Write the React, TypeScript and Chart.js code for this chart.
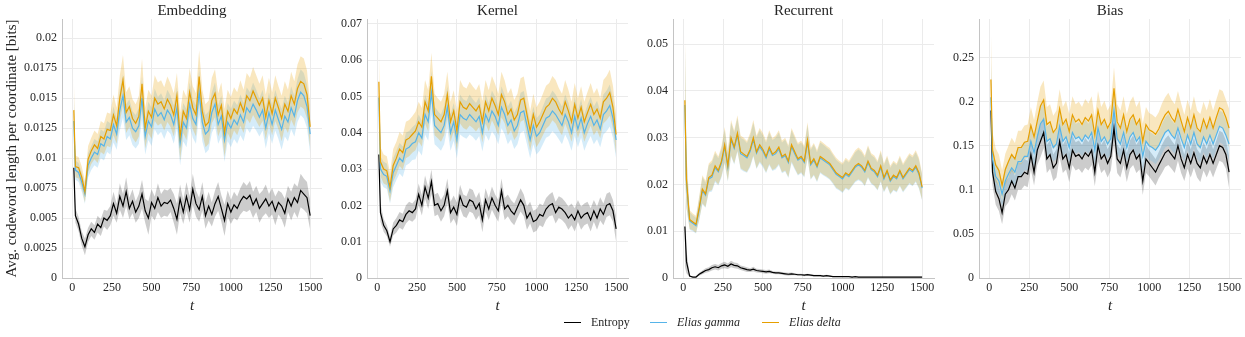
import React, { useEffect, useRef } from "react";
import { Chart, registerables } from "chart.js";

Chart.register(...registerables);

// ---------- data ----------
const T = [10, 20, 40, 60, 80, 100, 120, 140, 160, 180,
  200, 220, 240, 260, 280, 300, 320, 340, 360, 380,
  400, 420, 440, 460, 480, 500, 520, 540, 560, 580,
  600, 620, 640, 660, 680, 700, 720, 740, 760, 780,
  800, 820, 840, 860, 880, 900, 920, 940, 960, 980,
  1000, 1020, 1040, 1060, 1080, 1100, 1120, 1140, 1160, 1180,
  1200, 1220, 1240, 1260, 1280, 1300, 1320, 1340, 1360, 1380,
  1400, 1420, 1440, 1460, 1480, 1500];

const X_TICKS = [0, 250, 500, 750, 1000, 1250, 1500];
const X_TICK_LABELS = ["0", "250", "500", "750", "1000", "1250", "1500"];

const SERIES_LABELS = ["Entropy", "Elias gamma", "Elias delta"];

// Embedding
const EMB_ENT = [.0092, .0052, .0045, .0033, .0026, .0036, .0041, .0038, .0045, .0042,
  .0050, .0048, .0052, .0062, .0054, .0068, .0060, .0072, .0058, .0064,
  .0055, .0060, .0070, .0056, .0050, .0063, .0058, .0067, .0060, .0063,
  .0062, .0065, .0058, .0049, .0066, .0055, .0068, .0057, .0074, .0062,
  .0057, .0068, .0052, .0060, .0053, .0062, .0068, .0058, .0048, .0062,
  .0055, .0061, .0058, .0064, .0068, .0066, .0069, .0061, .0066, .0058,
  .0062, .0066, .0060, .0064, .0056, .0063, .0060, .0054, .0066, .0060,
  .0067, .0063, .0073, .0070, .0067, .0052];
const EMB_ENT_SD = [.0015, .0006, .0006, .0006, .0007, .0006, .0006, .0006, .0007, .0007,
  .0007, .0008, .0008, .0010, .0008, .0011, .0010, .0012, .0009, .0010,
  .0009, .0010, .0012, .0010, .0014, .0011, .0010, .0012, .0010, .0011,
  .0011, .0010, .0012, .0013, .0012, .0010, .0012, .0011, .0013, .0011,
  .0010, .0012, .0011, .0012, .0010, .0011, .0012, .0011, .0013, .0011,
  .0010, .0011, .0010, .0011, .0012, .0011, .0012, .0011, .0011, .0012,
  .0011, .0012, .0010, .0011, .0012, .0010, .0011, .0012, .0011, .0012,
  .0012, .0013, .0014, .0013, .0013, .0012];
const EMB_GAM = [.0131, .0090, .0088, .0080, .0070, .0094, .0100, .0105, .0103, .0112,
  .0110, .0118, .0116, .0128, .0120, .0140, .0152, .0130, .0134, .0125,
  .0122, .0127, .0150, .0118, .0131, .0126, .0141, .0135, .0138, .0132,
  .0140, .0136, .0128, .0142, .0112, .0130, .0125, .0145, .0133, .0128,
  .0155, .0130, .0120, .0123, .0138, .0145, .0128, .0135, .0115, .0130,
  .0125, .0132, .0128, .0136, .0130, .0142, .0138, .0145, .0140, .0134,
  .0140, .0125, .0138, .0128, .0140, .0132, .0124, .0135, .0130, .0142,
  .0135, .0148, .0155, .0152, .0143, .0120];
const EMB_GAM_SD = [.0025, .0008, .0008, .0008, .0008, .0010, .0010, .0011, .0011, .0012,
  .0012, .0013, .0013, .0015, .0013, .0017, .0018, .0015, .0015, .0014,
  .0014, .0015, .0018, .0015, .0016, .0016, .0017, .0016, .0016, .0016,
  .0017, .0016, .0016, .0017, .0018, .0016, .0016, .0018, .0016, .0016,
  .0019, .0016, .0016, .0016, .0017, .0018, .0016, .0017, .0018, .0016,
  .0016, .0016, .0016, .0017, .0016, .0017, .0017, .0018, .0017, .0016,
  .0017, .0017, .0017, .0016, .0017, .0016, .0017, .0017, .0016, .0018,
  .0017, .0018, .0019, .0019, .0018, .0016];
const EMB_DEL = [.0140, .0093, .0092, .0084, .0072, .0099, .0106, .0111, .0108, .0118,
  .0116, .0124, .0123, .0136, .0127, .0150, .0165, .0138, .0143, .0133,
  .0129, .0135, .0162, .0125, .0139, .0134, .0150, .0145, .0147, .0141,
  .0149, .0144, .0136, .0152, .0118, .0139, .0133, .0155, .0142, .0136,
  .0168, .0139, .0127, .0130, .0148, .0154, .0136, .0144, .0121, .0139,
  .0133, .0141, .0137, .0146, .0139, .0152, .0148, .0156, .0150, .0144,
  .0150, .0134, .0148, .0137, .0150, .0142, .0133, .0145, .0139, .0152,
  .0145, .0158, .0164, .0162, .0153, .0126];
const EMB_DEL_SD = [.0028, .0009, .0009, .0009, .0009, .0011, .0011, .0012, .0012, .0013,
  .0013, .0014, .0014, .0017, .0015, .0019, .0021, .0017, .0017, .0016,
  .0016, .0017, .0021, .0017, .0018, .0018, .0019, .0018, .0018, .0018,
  .0019, .0018, .0018, .0019, .0020, .0018, .0018, .0020, .0018, .0018,
  .0022, .0018, .0018, .0018, .0019, .0020, .0018, .0019, .0020, .0018,
  .0018, .0018, .0018, .0019, .0018, .0019, .0019, .0020, .0019, .0018,
  .0019, .0019, .0019, .0018, .0019, .0018, .0019, .0019, .0018, .0020,
  .0019, .0020, .0021, .0021, .0020, .0018];

// Kernel
const KER_ENT = [.0340, .0180, .0145, .0130, .0100, .0135, .0145, .0160, .0155, .0175,
  .0185, .0180, .0190, .0230, .0200, .0250, .0220, .0265, .0200, .0205,
  .0185, .0200, .0240, .0180, .0195, .0175, .0225, .0200, .0195, .0215,
  .0210, .0190, .0205, .0160, .0215, .0190, .0220, .0200, .0185, .0240,
  .0190, .0200, .0185, .0175, .0195, .0215, .0200, .0165, .0180, .0155,
  .0160, .0175, .0170, .0190, .0200, .0205, .0180, .0195, .0190, .0180,
  .0165, .0175, .0160, .0185, .0165, .0175, .0180, .0160, .0185, .0165,
  .0190, .0175, .0200, .0205, .0185, .0135];
const KER_ENT_SD = [.0030, .0025, .0018, .0015, .0014, .0018, .0020, .0022, .0022, .0025,
  .0025, .0025, .0026, .0030, .0028, .0032, .0030, .0034, .0030, .0030,
  .0030, .0030, .0034, .0030, .0032, .0032, .0032, .0030, .0030, .0032,
  .0032, .0030, .0032, .0034, .0032, .0030, .0032, .0030, .0030, .0034,
  .0030, .0030, .0030, .0030, .0030, .0032, .0030, .0032, .0030, .0030,
  .0030, .0030, .0030, .0030, .0030, .0032, .0030, .0030, .0030, .0030,
  .0032, .0030, .0032, .0030, .0032, .0030, .0030, .0032, .0030, .0032,
  .0032, .0030, .0032, .0032, .0030, .0035];
const KER_GAM = [.0497, .0300, .0285, .0280, .0240, .0290, .0310, .0330, .0320, .0355,
  .0360, .0370, .0375, .0400, .0385, .0450, .0430, .0510, .0420, .0410,
  .0400, .0420, .0470, .0400, .0430, .0380, .0450, .0440, .0435, .0450,
  .0440, .0430, .0445, .0400, .0450, .0430, .0460, .0445, .0420, .0470,
  .0450, .0420, .0435, .0405, .0420, .0455, .0460, .0420, .0380, .0420,
  .0390, .0400, .0420, .0440, .0445, .0460, .0450, .0435, .0420, .0450,
  .0430, .0400, .0445, .0410, .0440, .0400, .0425, .0445, .0420, .0435,
  .0410, .0450, .0460, .0475, .0440, .0380];
const KER_GAM_SD = [.0050, .0035, .0035, .0035, .0035, .0040, .0040, .0042, .0042, .0045,
  .0045, .0045, .0048, .0050, .0048, .0055, .0052, .0060, .0052, .0050,
  .0050, .0052, .0058, .0050, .0052, .0050, .0055, .0052, .0052, .0055,
  .0052, .0052, .0054, .0052, .0055, .0052, .0056, .0054, .0052, .0058,
  .0054, .0052, .0053, .0050, .0052, .0055, .0055, .0052, .0050, .0052,
  .0050, .0050, .0052, .0054, .0054, .0056, .0055, .0053, .0052, .0055,
  .0053, .0050, .0054, .0050, .0053, .0050, .0052, .0054, .0052, .0053,
  .0050, .0055, .0056, .0058, .0054, .0050];
const KER_DEL = [.0540, .0320, .0300, .0295, .0250, .0310, .0330, .0355, .0345, .0380,
  .0385, .0395, .0405, .0430, .0415, .0485, .0460, .0555, .0450, .0440,
  .0430, .0450, .0505, .0430, .0460, .0405, .0485, .0470, .0465, .0480,
  .0470, .0460, .0475, .0430, .0485, .0460, .0495, .0475, .0450, .0505,
  .0485, .0450, .0465, .0435, .0450, .0490, .0495, .0450, .0405, .0450,
  .0415, .0430, .0450, .0470, .0478, .0495, .0485, .0465, .0450, .0485,
  .0460, .0430, .0478, .0440, .0470, .0430, .0455, .0478, .0450, .0465,
  .0440, .0485, .0495, .0510, .0470, .0395];
const KER_DEL_SD = [.0095, .0040, .0040, .0040, .0040, .0045, .0045, .0047, .0047, .0050,
  .0050, .0050, .0053, .0055, .0053, .0060, .0057, .0065, .0057, .0055,
  .0055, .0057, .0063, .0055, .0057, .0055, .0060, .0057, .0057, .0060,
  .0057, .0057, .0059, .0057, .0060, .0057, .0061, .0059, .0057, .0063,
  .0059, .0057, .0058, .0055, .0057, .0060, .0060, .0057, .0055, .0057,
  .0055, .0055, .0057, .0059, .0059, .0061, .0060, .0058, .0057, .0060,
  .0058, .0055, .0059, .0055, .0058, .0055, .0057, .0059, .0057, .0058,
  .0055, .0060, .0061, .0063, .0059, .0055];

// Recurrent
const REC_ENT = [.0110, .0035, .0004, .0002, .0002, .0008, .0012, .0016, .0018, .0022,
  .0024, .0022, .0026, .0028, .0025, .0030, .0027, .0026, .0022, .0020,
  .0018, .0017, .0019, .0016, .0015, .0014, .0013, .0014, .0012, .0011,
  .0011, .0010, .0009, .0008, .0009, .0008, .0007, .0007, .0006, .0007,
  .0006, .0005, .0005, .0005, .0004, .0005, .0004, .0003, .0003, .0003,
  .0003, .0003, .0003, .0002, .0003, .0002, .0002, .0002, .0002, .0002,
  .0002, .0002, .0002, .0002, .0002, .0002, .0002, .0002, .0002, .0002,
  .0002, .0002, .0002, .0002, .0002, .0002];
const REC_ENT_SD = [.0085, .0025, .0002, .0001, .0001, .0003, .0004, .0005, .0005, .0006,
  .0006, .0006, .0006, .0007, .0006, .0007, .0006, .0006, .0005, .0005,
  .0005, .0004, .0005, .0004, .0004, .0004, .0004, .0004, .0003, .0003,
  .0003, .0003, .0003, .0003, .0003, .0002, .0002, .0002, .0002, .0002,
  .0002, .0002, .0002, .0002, .0002, .0002, .0002, .0001, .0001, .0001,
  .0001, .0001, .0001, .0001, .0001, .0001, .0001, .0001, .0001, .0001,
  .0001, .0001, .0001, .0001, .0001, .0001, .0001, .0001, .0001, .0001,
  .0001, .0001, .0001, .0001, .0001, .0001];
const REC_GAM = [.0370, .0205, .0122, .0117, .0112, .0147, .0187, .0177, .0212, .0216,
  .0236, .0227, .0246, .0281, .0237, .0296, .0277, .0306, .0266, .0262,
  .0257, .0271, .0296, .0267, .0281, .0271, .0257, .0276, .0262, .0266,
  .0276, .0257, .0262, .0247, .0281, .0266, .0252, .0257, .0247, .0291,
  .0242, .0252, .0237, .0257, .0252, .0247, .0242, .0232, .0222, .0217,
  .0212, .0222, .0217, .0227, .0237, .0242, .0237, .0227, .0247, .0232,
  .0227, .0217, .0237, .0212, .0227, .0207, .0217, .0212, .0227, .0212,
  .0222, .0232, .0227, .0237, .0222, .0192];
const REC_GAM_SD = [.0140, .0055, .0019, .0017, .0017, .0024, .0029, .0027, .0029, .0031,
  .0031, .0029, .0031, .0036, .0031, .0036, .0034, .0036, .0034, .0034,
  .0032, .0034, .0036, .0034, .0035, .0034, .0033, .0035, .0033, .0034,
  .0035, .0033, .0034, .0033, .0035, .0034, .0033, .0033, .0032, .0036,
  .0032, .0033, .0032, .0033, .0033, .0032, .0032, .0031, .0031, .0030,
  .0030, .0031, .0030, .0031, .0032, .0033, .0032, .0031, .0033, .0031,
  .0031, .0030, .0032, .0029, .0031, .0029, .0030, .0029, .0031, .0029,
  .0030, .0031, .0031, .0032, .0031, .0027];
const REC_DEL = [.0380, .0210, .0125, .0120, .0115, .0150, .0190, .0180, .0215, .0220,
  .0240, .0230, .0250, .0285, .0240, .0300, .0280, .0310, .0270, .0265,
  .0260, .0275, .0300, .0270, .0285, .0275, .0260, .0280, .0265, .0270,
  .0280, .0260, .0265, .0250, .0285, .0270, .0255, .0260, .0250, .0295,
  .0245, .0255, .0240, .0260, .0255, .0250, .0245, .0235, .0225, .0220,
  .0215, .0225, .0220, .0230, .0240, .0245, .0240, .0230, .0250, .0235,
  .0230, .0220, .0240, .0215, .0230, .0210, .0220, .0215, .0230, .0215,
  .0225, .0235, .0230, .0240, .0225, .0195];
const REC_DEL_SD = [.0150, .0060, .0020, .0018, .0018, .0025, .0030, .0028, .0030, .0032,
  .0032, .0030, .0032, .0038, .0032, .0038, .0035, .0038, .0035, .0035,
  .0033, .0035, .0038, .0035, .0036, .0035, .0034, .0036, .0034, .0035,
  .0036, .0034, .0035, .0034, .0036, .0035, .0034, .0034, .0033, .0038,
  .0033, .0034, .0033, .0034, .0034, .0033, .0033, .0032, .0032, .0031,
  .0031, .0032, .0031, .0032, .0033, .0034, .0033, .0032, .0034, .0032,
  .0032, .0031, .0033, .0030, .0032, .0030, .0031, .0030, .0032, .0030,
  .0031, .0032, .0032, .0033, .0032, .0028];

// Bias
const BIAS_ENT = [.1900, .1200, .0980, .0900, .0740, .0950, .1000, .1100, .1020, .1150,
  .1150, .1200, .1180, .1400, .1200, .1450, .1550, .1650, .1350, .1400,
  .1250, .1300, .1550, .1350, .1400, .1250, .1450, .1380, .1400, .1350,
  .1420, .1380, .1450, .1200, .1500, .1350, .1400, .1300, .1380, .1700,
  .1350, .1300, .1450, .1250, .1400, .1450, .1350, .1400, .1100, .1350,
  .1300, .1250, .1200, .1280, .1350, .1420, .1450, .1400, .1350, .1500,
  .1350, .1250, .1400, .1300, .1420, .1300, .1250, .1380, .1300, .1400,
  .1300, .1400, .1500, .1480, .1400, .1200];
const BIAS_ENT_SD = [.0450, .0150, .0150, .0140, .0130, .0140, .0140, .0150, .0140, .0150,
  .0150, .0150, .0150, .0170, .0150, .0170, .0180, .0180, .0160, .0160,
  .0150, .0160, .0180, .0160, .0170, .0160, .0170, .0160, .0160, .0160,
  .0170, .0160, .0170, .0160, .0180, .0160, .0170, .0160, .0160, .0190,
  .0160, .0160, .0170, .0160, .0160, .0170, .0160, .0170, .0160, .0160,
  .0150, .0150, .0150, .0150, .0160, .0160, .0170, .0160, .0160, .0170,
  .0160, .0150, .0160, .0160, .0170, .0160, .0160, .0160, .0160, .0170,
  .0160, .0160, .0170, .0170, .0160, .0180];
const BIAS_GAM = [.2050, .1350, .1150, .1100, .0950, .1100, .1180, .1250, .1200, .1320,
  .1320, .1380, .1380, .1550, .1420, .1600, .1750, .1800, .1550, .1580,
  .1480, .1520, .1720, .1550, .1600, .1480, .1650, .1580, .1600, .1550,
  .1620, .1580, .1650, .1450, .1700, .1550, .1600, .1520, .1580, .1900,
  .1580, .1520, .1650, .1480, .1600, .1650, .1550, .1600, .1380, .1550,
  .1500, .1480, .1450, .1500, .1580, .1650, .1680, .1620, .1580, .1700,
  .1580, .1480, .1620, .1520, .1650, .1520, .1480, .1600, .1520, .1620,
  .1520, .1620, .1720, .1700, .1620, .1520];
const BIAS_GAM_SD = [.0450, .0160, .0160, .0150, .0140, .0150, .0150, .0160, .0150, .0160,
  .0160, .0160, .0160, .0180, .0160, .0180, .0190, .0190, .0170, .0170,
  .0160, .0170, .0190, .0170, .0180, .0170, .0180, .0170, .0170, .0170,
  .0180, .0170, .0180, .0170, .0190, .0170, .0180, .0170, .0170, .0200,
  .0170, .0170, .0180, .0170, .0170, .0180, .0170, .0180, .0170, .0170,
  .0160, .0160, .0160, .0160, .0170, .0170, .0180, .0170, .0170, .0180,
  .0170, .0160, .0170, .0170, .0180, .0170, .0170, .0170, .0170, .0180,
  .0170, .0170, .0180, .0180, .0170, .0190];
const BIAS_DEL = [.2250, .1450, .1280, .1220, .1050, .1230, .1320, .1400, .1350, .1480,
  .1480, .1540, .1550, .1730, .1600, .1780, .1950, .2020, .1740, .1770,
  .1650, .1700, .1920, .1740, .1800, .1660, .1850, .1770, .1800, .1740,
  .1820, .1780, .1850, .1620, .1900, .1740, .1800, .1700, .1770, .2150,
  .1770, .1700, .1850, .1660, .1800, .1850, .1740, .1800, .1550, .1740,
  .1680, .1660, .1630, .1690, .1780, .1850, .1890, .1820, .1770, .1910,
  .1780, .1660, .1820, .1700, .1850, .1700, .1660, .1800, .1700, .1820,
  .1700, .1820, .1930, .1910, .1820, .1700];
const BIAS_DEL_SD = [.0550, .0200, .0190, .0180, .0170, .0180, .0180, .0190, .0180, .0190,
  .0190, .0190, .0190, .0210, .0190, .0210, .0220, .0220, .0200, .0200,
  .0190, .0200, .0220, .0200, .0210, .0200, .0210, .0200, .0200, .0200,
  .0210, .0200, .0210, .0200, .0220, .0200, .0210, .0200, .0200, .0240,
  .0200, .0200, .0210, .0200, .0200, .0210, .0200, .0210, .0200, .0200,
  .0190, .0190, .0190, .0190, .0200, .0200, .0210, .0200, .0200, .0210,
  .0200, .0190, .0200, .0200, .0210, .0200, .0200, .0200, .0200, .0210,
  .0200, .0200, .0210, .0210, .0200, .0220];

const EMB_Y_TICKS = [0, 0.0025, 0.005, 0.0075, 0.01, 0.0125, 0.015, 0.0175, 0.02];
const EMB_Y_LABELS = ["0", "0.0025", "0.005", "0.0075", "0.01", "0.0125", "0.015", "0.0175", "0.02"];
const KER_Y_TICKS = [0, 0.01, 0.02, 0.03, 0.04, 0.05, 0.06, 0.07];
const KER_Y_LABELS = ["0", "0.01", "0.02", "0.03", "0.04", "0.05", "0.06", "0.07"];
const REC_Y_TICKS = [0, 0.01, 0.02, 0.03, 0.04, 0.05];
const REC_Y_LABELS = ["0", "0.01", "0.02", "0.03", "0.04", "0.05"];
const BIAS_Y_TICKS = [0, 0.05, 0.1, 0.15, 0.2, 0.25];
const BIAS_Y_LABELS = ["0", "0.05", "0.1", "0.15", "0.2", "0.25"];

// ---------- styles ----------
const FONT = "'Liberation Serif', 'DejaVu Serif', serif";
const TEXT = "#262626";
const GRID = "#ebebeb";
const AXIS = "#c4c4c4";
const C_ENT = "#000000";
const C_GAM = "#56B4E9";
const C_DEL = "#E69F00";
const B_ENT = "rgba(0,0,0,0.2)";
const B_GAM = "rgba(86,180,233,0.25)";
const B_DEL = "rgba(230,159,0,0.25)";

const PANELS = [
  { title: "Embedding", ent: EMB_ENT, entSd: EMB_ENT_SD, gam: EMB_GAM, gamSd: EMB_GAM_SD, del: EMB_DEL, delSd: EMB_DEL_SD,
    yMax: 0.0216, yTicks: EMB_Y_TICKS, yLabels: EMB_Y_LABELS, left: 0, width: 330, axisW: 62, padR: 8,
    yTitle: "Avg. codeword length per coordinate [bits]" },
  { title: "Kernel", ent: KER_ENT, entSd: KER_ENT_SD, gam: KER_GAM, gamSd: KER_GAM_SD, del: KER_DEL, delSd: KER_DEL_SD,
    yMax: 0.0713, yTicks: KER_Y_TICKS, yLabels: KER_Y_LABELS, left: 330, width: 305, axisW: 37, padR: 7, yTitle: "" },
  { title: "Recurrent", ent: REC_ENT, entSd: REC_ENT_SD, gam: REC_GAM, gamSd: REC_GAM_SD, del: REC_DEL, delSd: REC_DEL_SD,
    yMax: 0.0554, yTicks: REC_Y_TICKS, yLabels: REC_Y_LABELS, left: 635, width: 305, axisW: 38, padR: 6, yTitle: "" },
  { title: "Bias", ent: BIAS_ENT, entSd: BIAS_ENT_SD, gam: BIAS_GAM, gamSd: BIAS_GAM_SD, del: BIAS_DEL, delSd: BIAS_DEL_SD,
    yMax: 0.2937, yTicks: BIAS_Y_TICKS, yLabels: BIAS_Y_LABELS, left: 940, width: 305, axisW: 39, padR: 4, yTitle: "" },
];

type PanelCfg = typeof PANELS[number];

function pts(mean: number[], sd: number[] | null, sign: number) {
  return T.map((t, i) => ({ x: t, y: mean[i] + (sd ? sign * sd[i] : 0) }));
}

function PanelChart({ p }: { p: PanelCfg }) {
  const ref = useRef<HTMLCanvasElement>(null);
  useEffect(() => {
    if (!ref.current) return;
    const line = (label: string, mean: number[], color: string, order: number) => ({
      label, data: pts(mean, null, 0), borderColor: color, backgroundColor: color,
      borderWidth: 1.2, order, fill: false, pointRadius: 0,
    });
    const upper = (mean: number[], sd: number[], order: number) => ({
      label: "", data: pts(mean, sd, 1), borderColor: "transparent", backgroundColor: "transparent",
      borderWidth: 0, order, fill: false, pointRadius: 0,
    });
    const lower = (mean: number[], sd: number[], color: string, target: number, order: number) => ({
      label: "", data: pts(mean, sd, -1), borderColor: "transparent", backgroundColor: color,
      borderWidth: 0, order, fill: target, pointRadius: 0,
    });
    const datasets: any[] = [
      line(SERIES_LABELS[2], p.del, C_DEL, 0),
      line(SERIES_LABELS[1], p.gam, C_GAM, 1),
      line(SERIES_LABELS[0], p.ent, C_ENT, 2),
      upper(p.del, p.delSd, 10),
      lower(p.del, p.delSd, B_DEL, 3, 10),
      upper(p.gam, p.gamSd, 11),
      lower(p.gam, p.gamSd, B_GAM, 5, 11),
      upper(p.ent, p.entSd, 12),
      lower(p.ent, p.entSd, B_ENT, 7, 12),
    ];
    const chart = new Chart(ref.current, {
      type: "line",
      data: { datasets },
      options: {
        animation: false,
        responsive: false,
        events: [],
        layout: { padding: { left: 0, right: p.padR, top: 0, bottom: 19 } },
        elements: { point: { radius: 0 }, line: { tension: 0 } },
        plugins: {
          legend: { display: false },
          tooltip: { enabled: false },
          title: {
            display: true, text: p.title, fullSize: false, color: TEXT,
            font: { family: FONT, size: 15, weight: "normal", lineHeight: 1 },
            padding: { top: 4, bottom: 0 },
          },
        },
        scales: {
          x: {
            type: "linear", min: -64.5, max: 1574.5,
            afterBuildTicks: (s: any) => { s.ticks = X_TICKS.map((v) => ({ value: v })); },
            afterFit: (s: any) => { s.height = 40; s.paddingLeft = 0; s.paddingRight = 0; },
            ticks: {
              callback: (_v: any, i: number) => X_TICK_LABELS[i],
              color: TEXT, font: { family: FONT, size: 12 }, padding: 3, maxRotation: 0, autoSkip: false,
            },
            grid: { color: GRID, drawTicks: false, lineWidth: 1 },
            border: { color: AXIS, width: 1 },
            title: {
              display: true, text: "t", color: TEXT,
              font: { family: FONT, size: 15, style: "italic" }, padding: { top: 0, bottom: 3 },
            },
          },
          y: {
            type: "linear", min: 0, max: p.yMax,
            afterBuildTicks: (s: any) => { s.ticks = p.yTicks.map((v) => ({ value: v })); },
            afterFit: (s: any) => { s.width = p.axisW; s.paddingTop = 0; s.paddingBottom = 0; },
            ticks: {
              callback: (_v: any, i: number) => p.yLabels[i],
              color: TEXT, font: { family: FONT, size: 12 }, padding: 5, autoSkip: false,
            },
            grid: { color: GRID, drawTicks: false, lineWidth: 1 },
            border: { color: AXIS, width: 1 },
            title: p.yTitle
              ? { display: true, text: p.yTitle, color: TEXT, font: { family: FONT, size: 15 }, padding: { top: 3, bottom: 0 } }
              : { display: false },
          },
        },
      } as any,
    });
    return () => chart.destroy();
  }, [p]);
  return (
    <canvas ref={ref} width={p.width} height={337}
      style={{ position: "absolute", left: p.left, top: 0, width: p.width, height: 337 }} />
  );
}

const LEGEND = [
  { label: SERIES_LABELS[0], color: C_ENT, italic: false, x: 564 },
  { label: SERIES_LABELS[1], color: C_GAM, italic: true, x: 650 },
  { label: SERIES_LABELS[2], color: C_DEL, italic: true, x: 762 },
];

export default function App() {
  return (
    <div style={{ position: "fixed", left: 0, top: 0, width: 1245, height: 337, background: "#fff", overflow: "hidden" }}>
      {PANELS.map((p) => <PanelChart key={p.title} p={p} />)}
      {LEGEND.map((l) => (
        <div key={l.label} style={{ position: "absolute", left: l.x, top: 313, height: 18, display: "flex", alignItems: "center" }}>
          <div style={{ width: 17, height: 0, borderTop: `1.5px solid ${l.color}` }} />
          <span style={{ marginLeft: 10, fontFamily: FONT, fontSize: 12, color: TEXT, fontStyle: l.italic ? "italic" : "normal" }}>
            {l.label}
          </span>
        </div>
      ))}
    </div>
  );
}
